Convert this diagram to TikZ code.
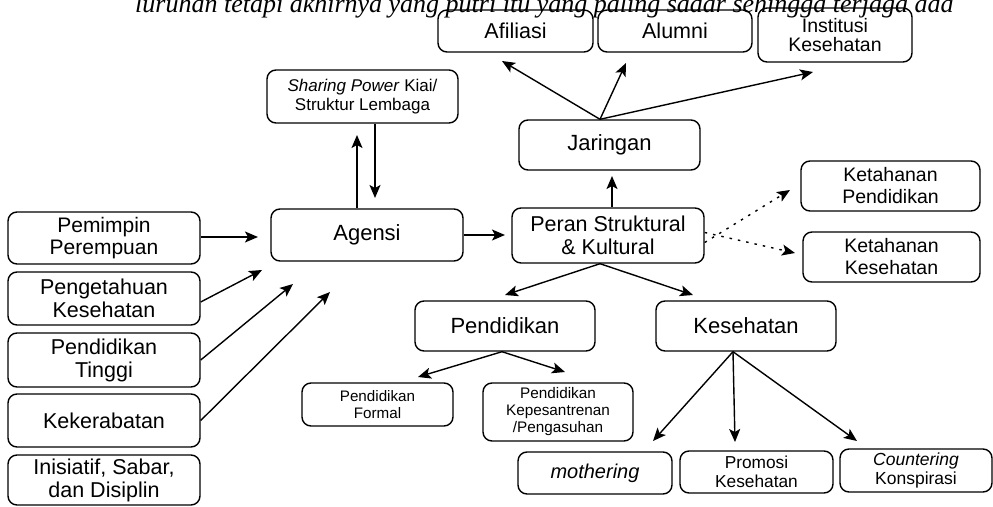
\documentclass[tikz,border=0pt]{standalone}
\usepackage{fontspec}
\setmainfont{Liberation Sans}
\newfontfamily\quotefont{Liberation Serif}
\usetikzlibrary{arrows.meta,calc}

\tikzset{
  fs/.style 2 args={font=\fontsize{#1}{#2}\selectfont},
  box/.style={draw, rounded corners=9pt, line width=1.4pt, align=center,
              inner sep=0pt},
  arr/.style={line width=1.4pt, -{Stealth[length=13pt,width=11pt,inset=3pt]}},
  dotarr/.style={arr, dash pattern=on 2.5pt off 6pt},
}

\begin{document}
\begin{tikzpicture}[x=1pt,y=-1pt]
\useasboundingbox (0,0) rectangle (993,506);
\clip (0,0) rectangle (993,506);

% top row: network outcomes
\node[box, minimum width=155, minimum height=42, fs={21.5}{24}] (afil) at (515.5,31) {Afiliasi};
\node[box, minimum width=154, minimum height=42, fs={21.5}{24}] (alum) at (675,31) {Alumni};
\node[box, minimum width=154, minimum height=54, fs={19.5}{21}] (inst) at (835,35) {\raisebox{-2pt}{Institusi}\\Kesehatan};

% structure / agency
\node[box, minimum width=191, minimum height=53, fs={17}{19}] (share) at (362.5,96.5)
  {\textit{Sharing Power} Kiai/\\Struktur Lembaga};
\node[box, minimum width=192, minimum height=52, fs={22}{25}] (agen) at (367,235) {Agensi};
\node[box, minimum width=181, minimum height=50, fs={22}{25}] (jar) at (609.5,145) {Jaringan};
\node[box, minimum width=192, minimum height=55, fs={21.5}{23}] (peran) at (608,235.5) {Peran Struktural\\\& Kultural};
\node[box, minimum width=179, minimum height=50, fs={19.5}{22}] (ketp) at (890.5,186) {Ketahanan\\Pendidikan};
\node[box, minimum width=177, minimum height=50, fs={19.5}{22}] (ketk) at (891.5,257) {Ketahanan\\Kesehatan};

% left column: factors
\node[box, minimum width=192, minimum height=52, fs={21}{22}] (pem) at (104,238) {Pemimpin\\Perempuan};
\node[box, minimum width=192, minimum height=53, fs={21.5}{23}] (peng) at (104,298.5) {Pengetahuan\\Kesehatan};
\node[box, minimum width=192, minimum height=54, fs={21.5}{23}] (pt) at (104,360) {Pendidikan\\Tinggi};
\node[box, minimum width=192, minimum height=53, fs={21.5}{23}] (kek) at (104,420.5) {Kekerabatan};
\node[box, minimum width=192, minimum height=50, fs={21.5}{23}] (ini) at (104,480) {Inisiatif, Sabar,\\dan Disiplin};

% roles
\node[box, minimum width=180, minimum height=50, fs={22}{25}] (pend) at (505,326) {Pendidikan};
\node[box, minimum width=180, minimum height=50, fs={22}{25}] (kes) at (746,326) {Kesehatan};
\node[box, minimum width=151, minimum height=43, fs={15.2}{17}] (pf) at (377.5,404.5) {Pendidikan\\Formal};
\node[box, minimum width=150, minimum height=58, fs={15.3}{17}] (pk) at (558,412) {Pendidikan\\Kepesantrenan\\/Pengasuhan};
\node[box, minimum width=154, minimum height=42, fs={20}{22}] (moth) at (595,473) {\textit{mothering}};
\node[box, minimum width=153, minimum height=42, fs={17.3}{19}] (prom) at (756.5,472) {Promosi\\Kesehatan};
\node[box, minimum width=152, minimum height=43, fs={17.5}{19}] (coun) at (916,470.5) {\textit{Countering}\\Konspirasi};

% running text of the page above the figure
\node[anchor=base west, inner sep=0pt, fs={26}{30}] (runtext) at (135,12.5)
  {\quotefont\itshape luruhan tetapi akhirnya yang putri itu yang paling sadar sehingga terjaga ada};

% arrow tips that stop short of their targets
\coordinate (tPem)  at (258,237);
\coordinate (tPeng) at (262,270);
\coordinate (tPt)   at (293,284);
\coordinate (tKek)  at (330,292);
\coordinate (tShare) at (357,135);
\coordinate (tAgen) at (375,198);
\coordinate (tPeran) at (505,235);
\coordinate (tJar)  at (612,176);
\coordinate (tAfil) at (502,61);
\coordinate (tAlum) at (626,63);
\coordinate (tInst) at (813,72);
\coordinate (tKetp) at (790,190);
\coordinate (tKetk) at (795,253);
\coordinate (tPend) at (505,295);
\coordinate (tKes)  at (693,295);
\coordinate (tPf)   at (418,377);
\coordinate (tPk)   at (565,372);
\coordinate (tMoth) at (653,441);
\coordinate (tProm) at (735,442);
\coordinate (tCoun) at (857,441);

% factors into agency
\draw[arr] (pem.east |- tPem) -- (tPem);
\draw[arr] (peng.east |- 0,302) -- (tPeng);
\draw[arr] (pt.east) -- (tPt);
\draw[arr] (kek.east) -- (tKek);

% agency and structure
\draw[arr] (agen.north -| tShare) -- (tShare);
\draw[arr] (share.south -| tAgen) -- (tAgen);
\draw[arr] (agen.east) -- (tPeran);

% roles and networks
\draw[arr] (peran.north -| tJar) -- (tJar);
\draw[arr] (jar.north -| 600,0) -- (tAfil);
\draw[arr] (jar.north -| 600,0) -- (tAlum);
\draw[arr] (jar.north -| 600,0) -- (tInst);
\draw[dotarr] ([yshift=-7pt]peran.east) -- (tKetp);
\draw[dotarr] ([yshift=3pt]peran.east) -- (tKetk);

% roles split into education and health
\draw[arr] (peran.south -| 600,0) -- (tPend);
\draw[arr] (peran.south -| 600,0) -- (tKes);
\draw[arr] (pend.south -| 502,0) -- (tPf);
\draw[arr] (pend.south -| 502,0) -- (tPk);
\draw[arr] (kes.south -| 733,0) -- (tMoth);
\draw[arr] (kes.south -| 733,0) -- (tProm);
\draw[arr] (kes.south -| 733,0) -- (tCoun);
\end{tikzpicture}
\end{document}
